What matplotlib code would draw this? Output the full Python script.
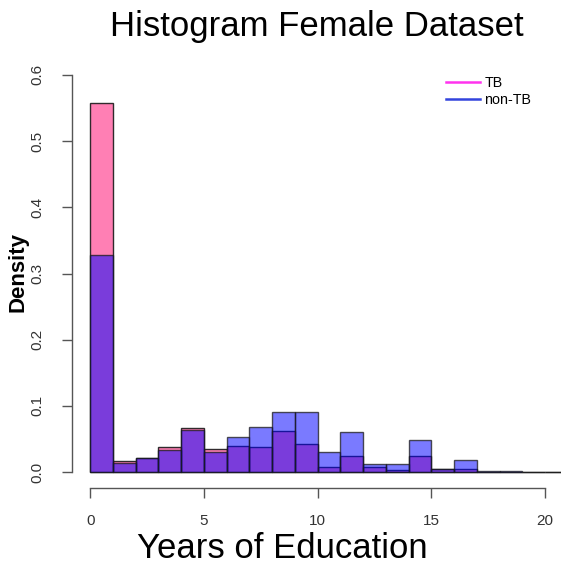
import numpy as np
import matplotlib
matplotlib.use("Agg")
import matplotlib.pyplot as plt
from matplotlib.lines import Line2D

plt.rcParams['font.family'] = ['Liberation Sans', 'DejaVu Sans']

# Histogram bins: one year of education each, 0..21
bin_edges = np.arange(0, 22)

# Density per bin (TB cases)
tb_density = [0.558, 0.017, 0.022, 0.038, 0.066, 0.035, 0.039, 0.038, 0.062, 0.043,
              0.008, 0.025, 0.007, 0.003, 0.025, 0.004, 0.004, 0.0, 0.0, 0.0, 0.0]
# Density per bin (non-TB cases)
nontb_density = [0.328, 0.014, 0.022, 0.034, 0.064, 0.031, 0.053, 0.068, 0.091, 0.091,
                 0.031, 0.060, 0.012, 0.012, 0.049, 0.005, 0.018, 0.002, 0.001, 0.0, 0.0]

x_ticks = [0, 5, 10, 15, 20]
y_ticks = [0.0, 0.1, 0.2, 0.3, 0.4, 0.5, 0.6]

W, H = 561, 568
fig = plt.figure(figsize=(W / 100, H / 100), dpi=100)
ax = fig.add_axes([72 / W, 1 - 488 / H, (563.2 - 72) / W, (488 - 59) / H])

left = bin_edges[:-1]
widths = np.diff(bin_edges)

ax.bar(left, tb_density, width=widths, align='edge',
       color=(1.0, 0.0, 0.42, 0.5), edgecolor=(0.1, 0.1, 0.1, 0.9), linewidth=1.0)
ax.bar(left, nontb_density, width=widths, align='edge',
       color=(0.0, 0.0, 1.0, 0.52), edgecolor=(0.1, 0.1, 0.1, 0.75), linewidth=1.0)

ax.set_xlim(-0.8, 20.8)
ax.set_ylim(-0.024, 0.624)

for s in ['top', 'right']:
    ax.spines[s].set_visible(False)
ax.spines['left'].set_bounds(0, 0.6)
ax.spines['bottom'].set_bounds(0, 20)
for s in ['left', 'bottom']:
    ax.spines[s].set_color('#555555')
    ax.spines[s].set_linewidth(1.0)

ax.set_xticks(x_ticks)
ax.set_xticklabels([str(v) for v in x_ticks])
ax.set_yticks(y_ticks)
ax.set_yticklabels([f"{v:.1f}" for v in y_ticks], rotation=90, va='center')
ax.tick_params(axis='both', direction='out', length=7, width=1.0, color='#555555',
               labelsize=11, labelcolor='#333333')
ax.tick_params(axis='x', pad=12)
ax.tick_params(axis='y', pad=13)

fig.text(317 / W, 1 - 36 / H, "Histogram Female Dataset", ha='center', va='baseline',
         fontsize=25, color='black')
fig.text(282 / W, 1 - 558 / H, "Years of Education", ha='center', va='baseline',
         fontsize=25, color='black')
fig.text(18 / W, 1 - 272 / H, "Density", ha='center', va='center', rotation=90,
         fontsize=16, fontweight='bold', color='black')

handles = [Line2D([0], [0], color='#ff33ee', lw=1.8),
           Line2D([0], [0], color='#3344dd', lw=1.8)]
ax.legend(handles, ['TB', 'non-TB'], loc='upper left',
          bbox_to_anchor=(440 / W, 1 - 70 / H), bbox_transform=fig.transFigure,
          frameon=False, fontsize=10.3, handlelength=2.4, handletextpad=0.3,
          labelspacing=0.2, borderaxespad=0)

fig.savefig('out.png', dpi=100)
